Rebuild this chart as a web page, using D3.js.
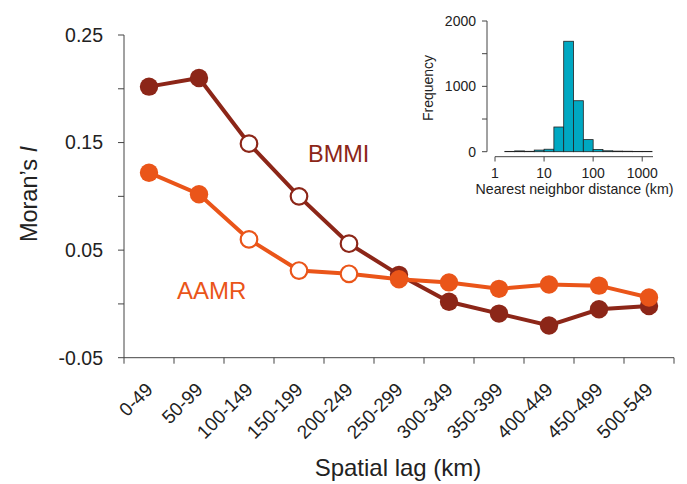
<!DOCTYPE html>
<html>
<head>
<meta charset="utf-8">
<script src="https://cdn.jsdelivr.net/npm/d3@7"></script>
<style>
  body { margin: 0; background: #fff; }
  text { font-family: "Liberation Sans", Arial, sans-serif; }
</style>
</head>
<body>
<div id="chart"></div>
<script>
// data
const lags = ["0-49", "50-99", "100-149", "150-199", "200-249", "250-299",
              "300-349", "350-399", "400-449", "450-499", "500-549"];
const bmmi = [0.202, 0.210, 0.149, 0.100, 0.056, 0.027, 0.002, -0.009, -0.020, -0.005, -0.002];
const aamr = [0.122, 0.102, 0.060, 0.031, 0.028, 0.023, 0.020, 0.014, 0.018, 0.017, 0.006];
// which points are drawn as open circles
const bmmiOpen = [false, false, true, true, true, false, false, false, false, false, false];
const aamrOpen = [false, false, true, true, true, false, false, false, false, false, false];
const yTicks = [-0.05, 0.05, 0.15, 0.25];
const yTickLabels = ["-0.05", "0.05", "0.15", "0.25"];
const yMinor = [0.0, 0.10, 0.20];

// inset histogram (log10 bins of nearest neighbour distance)
const binEdges = [0.2, 0.4, 0.6, 0.8, 1.0, 1.2, 1.4, 1.6, 1.8, 2.0, 2.2, 2.4, 2.6, 2.8, 3.0, 3.2];
const binCounts = [5, 12, 6, 25, 38, 378, 1690, 780, 185, 35, 14, 9, 7, 5, 5];
const histXTicks = [1, 10, 100, 1000];
const histYTicks = [0, 1000, 2000];
const histYMinor = [500, 1500];

const W = 687, H = 484;
const svg = d3.select("#chart").append("svg")
    .attr("width", W).attr("height", H);

const axisColor = "#444";
const cBmmi = "#8c2618", cAamr = "#ea5519";

// main scales
const x = d3.scaleBand().domain(lags).range([124, 674]);
const y = d3.scaleLinear().domain([-0.05, 0.25]).range([357.7, 35]);

// y axis
const gy = svg.append("g").attr("transform", "translate(124,0)");
gy.append("line").attr("y1", y(0.25)).attr("y2", y(-0.05)).attr("stroke", axisColor);
gy.selectAll(".maj").data(yTicks.concat(yMinor)).enter().append("line")
    .attr("x1", -6).attr("x2", 0)
    .attr("y1", d => y(d)).attr("y2", d => y(d))
    .attr("stroke", axisColor);
gy.selectAll("text").data(yTicks).enter().append("text")
    .attr("x", -21).attr("y", d => y(d)).attr("dy", "0.35em")
    .attr("text-anchor", "end").attr("font-size", 19.5).attr("fill", "#222")
    .text((d, i) => yTickLabels[i]);

// x axis
const gx = svg.append("g").attr("transform", `translate(0,${y(-0.05)})`);
gx.append("line").attr("x1", 124).attr("x2", 674).attr("stroke", axisColor);
const bounds = lags.map(d => x(d)).concat([x.range()[1]]);
gx.selectAll(".tk").data(bounds).enter().append("line")
    .attr("x1", d => d).attr("x2", d => d).attr("y1", 0).attr("y2", 6)
    .attr("stroke", axisColor);
gx.selectAll("text").data(lags).enter().append("text")
    .attr("transform", d => `translate(${x(d) + x.bandwidth() / 2 + 5},${33}) rotate(-45)`)
    .attr("text-anchor", "end")
    .attr("font-size", 19).attr("fill", "#222")
    .text(d => d);

// axis titles
svg.append("text")
    .attr("transform", "translate(37,194) rotate(-90)")
    .attr("text-anchor", "middle").attr("font-size", 23.5).attr("fill", "#222")
    .html("Moran’s <tspan font-style='italic'>I</tspan>");
svg.append("text")
    .attr("x", 398).attr("y", 476)
    .attr("text-anchor", "middle").attr("font-size", 24).attr("fill", "#222")
    .text("Spatial lag (km)");

// series
function drawSeries(vals, open, color) {
  const line = d3.line()
      .x((d, i) => x(lags[i]) + x.bandwidth() / 2)
      .y(d => y(d));
  svg.append("path").datum(vals)
      .attr("d", line).attr("fill", "none")
      .attr("stroke", color).attr("stroke-width", 4);
  svg.selectAll(null).data(vals).enter().append("circle")
      .attr("cx", (d, i) => x(lags[i]) + x.bandwidth() / 2)
      .attr("cy", d => y(d))
      .attr("r", (d, i) => open[i] ? 8.3 : 9.2)
      .attr("fill", (d, i) => open[i] ? "#fff" : color)
      .attr("stroke", color)
      .attr("stroke-width", (d, i) => open[i] ? 2.2 : 0);
}
drawSeries(bmmi, bmmiOpen, cBmmi);
drawSeries(aamr, aamrOpen, cAamr);

svg.append("text").attr("x", 308).attr("y", 162)
    .attr("font-size", 23.5).attr("fill", cBmmi).text("BMMI");
svg.append("text").attr("x", 177).attr("y", 299)
    .attr("font-size", 24).attr("fill", cAamr).text("AAMR");

// inset histogram
const hx = d3.scaleLog().domain([1, Math.pow(10, 3.22)]).range([495, 653]);
const hy = d3.scaleLinear().domain([0, 2000]).range([151.7, 21]);

const ins = svg.append("g");
ins.selectAll("rect").data(binCounts).enter().append("rect")
    .attr("x", (d, i) => hx(Math.pow(10, binEdges[i])))
    .attr("width", (d, i) => hx(Math.pow(10, binEdges[i + 1])) - hx(Math.pow(10, binEdges[i])))
    .attr("y", d => hy(d))
    .attr("height", d => hy(0) - hy(d))
    .attr("fill", "#00a8c2").attr("stroke", "#222").attr("stroke-width", 0.8);

// inset y axis
ins.append("line").attr("x1", 487).attr("x2", 487)
    .attr("y1", hy(2000)).attr("y2", hy(0)).attr("stroke", axisColor);
ins.selectAll(".hyt").data(histYTicks.concat(histYMinor)).enter().append("line")
    .attr("x1", 482).attr("x2", 487)
    .attr("y1", d => hy(d)).attr("y2", d => hy(d)).attr("stroke", axisColor);
ins.selectAll(".hyl").data(histYTicks).enter().append("text")
    .attr("x", 476).attr("y", d => hy(d)).attr("dy", "0.35em")
    .attr("text-anchor", "end").attr("font-size", 14).attr("fill", "#222")
    .text(d => d);
ins.append("text")
    .attr("transform", "translate(433,88) rotate(-90)")
    .attr("text-anchor", "middle").attr("font-size", 14).attr("fill", "#222")
    .text("Frequency");

// inset x axis
ins.append("line").attr("x1", 495).attr("x2", 653)
    .attr("y1", 156.7).attr("y2", 156.7).attr("stroke", axisColor);
ins.selectAll(".hxt").data(histXTicks).enter().append("line")
    .attr("x1", d => hx(d)).attr("x2", d => hx(d))
    .attr("y1", 156.7).attr("y2", 161.5).attr("stroke", axisColor);
ins.selectAll(".hxl").data(histXTicks).enter().append("text")
    .attr("x", d => hx(d)).attr("y", 178)
    .attr("text-anchor", "middle").attr("font-size", 14).attr("fill", "#222")
    .text(d => d);
ins.append("text")
    .attr("x", 574.5).attr("y", 194)
    .attr("text-anchor", "middle").attr("font-size", 14.2).attr("fill", "#222")
    .text("Nearest neighbor distance (km)");
</script>
</body>
</html>
